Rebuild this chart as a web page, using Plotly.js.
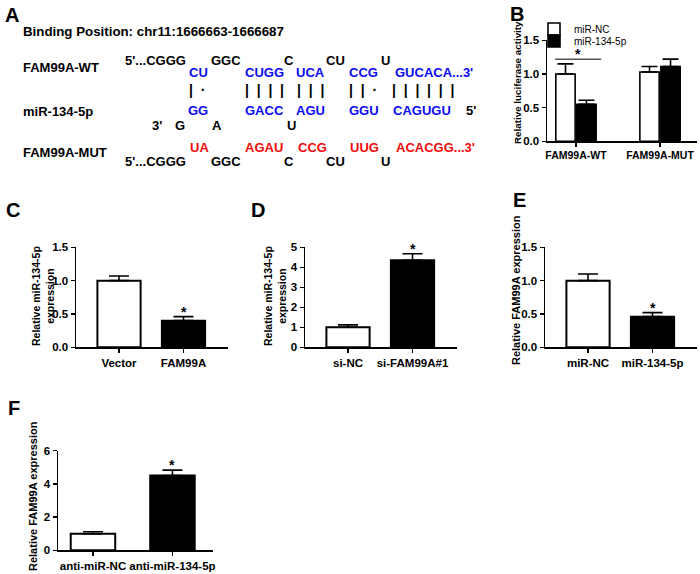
<!DOCTYPE html>
<html>
<head>
<meta charset="utf-8">
<script src="https://cdn.plot.ly/plotly-3.0.1.min.js"></script>
<style>
  html, body { margin: 0; padding: 0; background: #fff; }
  #fig { width: 700px; height: 574px; }
</style>
</head>
<body>
<div id="fig"></div>
<script>
// ---- data ----
// B: luciferase reporter
var bCats = ['FAM99A-WT', 'FAM99A-MUT'];
var bNC = [1.00, 1.03];
var bNCerr = [0.15, 0.08];
var b134 = [0.55, 1.11];
var b134err = [0.06, 0.11];
var bSigY = 1.22;

// C: miR-134-5p after FAM99A overexpression
var cCats = ['Vector', 'FAM99A'];
var cVals = [1.00, 0.40];
var cErr = [0.07, 0.06];

// D: miR-134-5p after FAM99A knockdown
var dCats = ['si-NC', 'si-FAM99A#1'];
var dVals = [1.00, 4.35];
var dErr = [0.12, 0.33];

// E: FAM99A after miR-134-5p mimic
var eCats = ['miR-NC', 'miR-134-5p'];
var eVals = [1.00, 0.46];
var eErr = [0.10, 0.06];

// F: FAM99A after miR-134-5p inhibitor
var fCats = ['anti-miR-NC', 'anti-miR-134-5p'];
var fVals = [1.00, 4.50];
var fErr = [0.12, 0.33];

// ---- helpers ----
var W = 700, H = 574;
var FONT = 'Arial, "Liberation Sans", sans-serif';
function X(p) { return p / W; }
function Y(p) { return 1 - p / H; }
function zeros(a) { return a.map(function () { return 0; }); }

function errUp(arr, w) {
  return {type: 'data', array: arr, arrayminus: zeros(arr), symmetric: false,
          color: '#000', thickness: 1.6, width: w};
}
function pairTrace(cats, vals, errs, ax, bw) {
  return {
    type: 'bar', x: cats, y: vals, width: bw,
    xaxis: 'x' + ax, yaxis: 'y' + ax, showlegend: false,
    marker: {color: ['#ffffff', '#000000'], line: {color: '#000', width: 2}},
    error_y: errUp(errs, 10)
  };
}

var data = [
  {type: 'bar', name: 'miR-NC', x: bCats, y: bNC, xaxis: 'x', yaxis: 'y',
   legend: 'legend',
   marker: {color: '#fff', line: {color: '#000', width: 1.6}}, error_y: errUp(bNCerr, 8)},
  {type: 'bar', name: 'miR-134-5p', x: bCats, y: b134, xaxis: 'x', yaxis: 'y',
   legend: 'legend2',
   marker: {color: '#000', line: {color: '#000', width: 1.6}}, error_y: errUp(b134err, 8)},
  pairTrace(cCats, cVals, cErr, 2, 0.67),
  pairTrace(dCats, dVals, dErr, 3, 0.67),
  pairTrace(eCats, eVals, eErr, 4, 0.67),
  pairTrace(fCats, fVals, fErr, 5, 0.56)
];

function yax(dom, range, dtick, fmt) {
  return {domain: dom, range: range, dtick: dtick, tickformat: fmt,
          showline: true, linecolor: '#000', linewidth: 1.5, mirror: false,
          ticks: 'outside', ticklen: 4, tickwidth: 1.5, tickcolor: '#000',
          showgrid: false, zeroline: false, fixedrange: true,
          tickfont: {family: FONT, size: 11.5, weight: 'bold', color: '#000'}};
}
function xax(dom, range, anchor, fs) {
  return {domain: dom, range: range, anchor: anchor, type: 'category',
          showline: true, linecolor: '#000', linewidth: 1.5,
          ticks: 'outside', ticklen: 4, tickwidth: 1.5, tickcolor: '#000',
          showgrid: false, zeroline: false, fixedrange: true,
          tickfont: {family: FONT, size: fs, weight: 'bold', color: '#000'}};
}

var ann = [];
function txt(t, x, y, opt) {
  opt = opt || {};
  ann.push({text: t, x: X(x), y: Y(y), xref: 'paper', yref: 'paper', showarrow: false,
            xanchor: opt.anchor || 'center', yanchor: 'middle', textangle: opt.angle || 0,
            font: {family: FONT, size: opt.size || 13, weight: opt.weight || 'bold',
                   color: opt.color || '#000'}});
}

// panel letters
[['A', 12, 15], ['B', 517, 14], ['C', 13, 210], ['D', 258, 210], ['E', 519, 200], ['F', 14, 408]]
  .forEach(function (p) { txt(p[0], p[1], p[2], {size: 20}); });

// panel A: binding sequences
var BLUE = '#0a0af5', RED = '#f50a0a';
txt('Binding Position: chr11:1666663-1666687', 21, 32, {anchor: 'left', size: 13.3});
txt('FAM99A-WT', 21, 67, {anchor: 'left'});
txt('miR-134-5p', 21, 112, {anchor: 'left'});
txt('FAM99A-MUT', 21, 153, {anchor: 'left'});

var targetLoop = [['GGC', 226], ['C', 289], ['CU', 335], ['U', 386]];
[60, 161].forEach(function (yy) {
  txt("5'...CGGG", 123, yy, {anchor: 'left'});
  targetLoop.forEach(function (s) { txt(s[0], s[1], yy); });
});
[['CU', 198], ['CUGG', 264], ['UCA', 310], ['CCG', 363]]
  .forEach(function (s) { txt(s[0], s[1], 73, {color: BLUE}); });
txt("GUCACA...3'", 393, 73, {anchor: 'left', color: BLUE});

[['|  ·', 197], ['|  |  |  |', 264], ['|  |  |', 310], ['|  |  ·', 363], ['|  |  |  |  |  |', 423]]
  .forEach(function (s) { txt(s[0], s[1], 90, {size: 14}); });

[['GG', 198], ['GACC', 264], ['AGU', 310], ['GGU', 364], ['CAGUGU', 422]]
  .forEach(function (s) { txt(s[0], s[1], 111, {color: BLUE}); });
txt("5'", 471, 111);
[["3'", 157], ['G', 180], ['A', 217], ['U', 291]]
  .forEach(function (s) { txt(s[0], s[1], 126); });

[['UA', 199], ['AGAU', 264], ['CCG', 312], ['UUG', 364]]
  .forEach(function (s) { txt(s[0], s[1], 147, {color: RED}); });
txt("ACACGG...3'", 394, 147, {anchor: 'left', color: RED});

// axis titles
txt('Relative luciferase activity', 517, 83, {angle: -90, size: 9.8});
txt('Relative miR-134-5p<br>expression', 43, 296, {angle: -90, size: 10.5});
txt('Relative miR-134-5p<br>expression', 275, 296, {angle: -90, size: 10.5});
txt('Relative FAM99A expression', 516, 290, {angle: -90, size: 11});
txt('Relative FAM99A expression', 33, 496, {angle: -90, size: 11});

// significance stars
function star(ax, cat, top) {
  ann.push({text: '*', x: cat, y: top, xref: 'x' + ax, yref: 'y' + ax, showarrow: false,
            xanchor: 'center', yanchor: 'middle', yshift: 5,
            font: {family: FONT, size: 14, weight: 'bold', color: '#000'}});
}
star('', 0.02, bSigY);
star(2, cCats[1], cVals[1] + cErr[1]);
star(3, dCats[1], dVals[1] + dErr[1]);
star(4, eCats[1], eVals[1] + eErr[1]);
star(5, fCats[1], fVals[1] + fErr[1]);

var layout = {
  width: W, height: H,
  margin: {l: 0, r: 0, t: 0, b: 0},
  paper_bgcolor: '#fff', plot_bgcolor: '#fff',
  font: {family: FONT, color: '#000'},
  barmode: 'group', bargap: 0.5, bargroupgap: 0.08,
  xaxis:  xax([X(547), X(697)], [-0.345, 1.44], 'y', 10.5),
  yaxis:  yax([Y(141.3), Y(40.3)], [0, 1.5], 0.5, '.1f'),
  xaxis2: xax([X(76), X(228)], [-0.667, 1.69], 'y2', 11.5),
  yaxis2: Object.assign(yax([Y(347.3), Y(247.3)], [0, 1.5], 0.5, '.1f'), {anchor: 'x2'}),
  xaxis3: xax([X(305), X(457)], [-0.667, 1.69], 'y3', 11.5),
  yaxis3: Object.assign(yax([Y(347.3), Y(247.3)], [0, 5], 1, 'd'), {anchor: 'x3'}),
  xaxis4: xax([X(545), X(697)], [-0.667, 1.69], 'y4', 11.5),
  yaxis4: Object.assign(yax([Y(347.3), Y(247.3)], [0, 1.5], 0.5, '.1f'), {anchor: 'x4'}),
  xaxis5: xax([X(58), X(213)], [-0.44, 1.51], 'y5', 11.5),
  yaxis5: Object.assign(yax([Y(550.3), Y(450.7)], [0, 6], 2, 'd'), {anchor: 'x5'}),
  shapes: [{type: 'line', xref: 'x', yref: 'y', x0: -0.25, x1: 0.30, y0: bSigY, y1: bSigY,
            line: {color: '#555', width: 1.5}}],
  annotations: ann,
  legend:  {x: X(534), y: Y(29), xanchor: 'left', yanchor: 'middle', bgcolor: 'rgba(0,0,0,0)',
            font: {family: FONT, size: 10}, itemwidth: 30, tracegroupgap: 0},
  legend2: {x: X(534), y: Y(41), xanchor: 'left', yanchor: 'middle', bgcolor: 'rgba(0,0,0,0)',
            font: {family: FONT, size: 10}, itemwidth: 30, tracegroupgap: 0}
};

Plotly.newPlot('fig', data, layout, {displayModeBar: false, staticPlot: true});
</script>
</body>
</html>
